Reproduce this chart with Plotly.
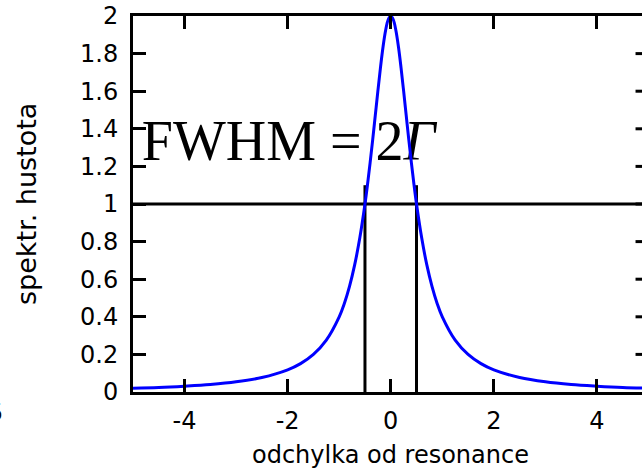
import plotly.graph_objects as go

# Spectral density (Lorentzian-shaped resonance curve)
x_vals = [-5.0, -4.5, -4.0, -3.5, -3.0, -2.5, -2.0, -1.75, -1.5, -1.25, -1.0, -0.9, -0.8, -0.7,
          -0.6, -0.5, -0.45, -0.4, -0.35, -0.3, -0.25, -0.2, -0.15, -0.1, -0.05, 0.0,
          0.05, 0.1, 0.15, 0.2, 0.25, 0.3, 0.35, 0.4, 0.45, 0.5, 0.6, 0.7, 0.8, 0.9, 1.0,
          1.25, 1.5, 1.75, 2.0, 2.5, 3.0, 3.5, 4.0, 4.5, 5.0]
y_vals = [0.020, 0.024, 0.031, 0.040, 0.054, 0.077, 0.118, 0.151, 0.200, 0.276, 0.400, 0.471,
          0.562, 0.676, 0.820, 1.000, 1.105, 1.220, 1.342, 1.471, 1.600, 1.724, 1.835, 1.923,
          1.980, 2.000, 1.980, 1.923, 1.835, 1.724, 1.600, 1.471, 1.342, 1.220, 1.105, 1.000,
          0.820, 0.676, 0.562, 0.471, 0.400, 0.276, 0.200, 0.151, 0.118, 0.077, 0.054, 0.040,
          0.031, 0.024, 0.020]

half_max = 1.0
fwhm_edges = [-0.5, 0.5]
marker_top = 1.1

x_ticks = [-4, -2, 0, 2, 4]
y_ticks = [0, 0.2, 0.4, 0.6, 0.8, 1.0, 1.2, 1.4, 1.6, 1.8, 2.0]
y_ticktext = ["0", "0.2", "0.4", "0.6", "0.8", "1", "1.2", "1.4", "1.6", "1.8", "2"]

X_MIN, X_MAX = -5.0, 5.0
X_VIEW_MAX = 4.874  # right part of the frame lies outside the picture
label = "FWHM = 2<i>Γ</i>"

fig = go.Figure()

# label (drawn beneath the lines)
fig.add_trace(go.Scatter(x=[-4.83], y=[1.31], mode="text", text=[label],
                         textposition="middle right",
                         textfont=dict(family="Liberation Serif", size=56, color="black"),
                         hoverinfo="skip", showlegend=False))

# half-maximum horizontal line
fig.add_trace(go.Scatter(x=[X_MIN, X_MAX], y=[half_max, half_max], mode="lines",
                         line=dict(color="black", width=3), showlegend=False))
# FWHM edge markers
for xe in fwhm_edges:
    fig.add_trace(go.Scatter(x=[xe, xe], y=[0, marker_top], mode="lines",
                             line=dict(color="black", width=3), showlegend=False))

# resonance curve
fig.add_trace(go.Scatter(x=x_vals, y=y_vals, mode="lines", line_shape="spline",
                         line=dict(color="#0000ff", width=3), showlegend=False))

# right-hand frame ticks (frame itself is outside the picture)
tick_len = 13 / 51.7
for v in y_ticks[1:-1]:
    fig.add_shape(type="line", xref="x", yref="y", x0=X_MAX - tick_len, x1=X_MAX,
                  y0=v, y1=v, line=dict(color="black", width=3))

tick_font = dict(family="DejaVu Sans", size=24, color="black")
fig.update_xaxes(range=[X_MIN, X_VIEW_MAX], tickvals=x_ticks,
                 ticktext=[str(t) for t in x_ticks],
                 ticks="inside", ticklen=13, tickwidth=3, tickcolor="black",
                 showline=True, linewidth=3, linecolor="black", mirror="ticks",
                 showgrid=False, zeroline=False, tickfont=tick_font,
                 ticklabelstandoff=5)
fig.update_yaxes(range=[0, 2], tickvals=y_ticks, ticktext=y_ticktext,
                 ticks="inside", ticklen=13, tickwidth=3, tickcolor="black",
                 showline=True, linewidth=3, linecolor="black", mirror=False,
                 showgrid=False, zeroline=False, tickfont=tick_font,
                 ticklabelstandoff=7)

title_font = dict(family="DejaVu Sans", size=24, color="black")
fig.add_annotation(text="odchylka od resonance", xref="paper", yref="paper",
                   x=(390 - 133) / 509, y=-(455 - 392) / 376, xanchor="center", yanchor="middle",
                   showarrow=False, font=title_font)
fig.add_annotation(text="spektr. hustota", xref="paper", yref="paper",
                   x=-(133 - 26) / 509, y=0.5, xanchor="center", yanchor="middle",
                   textangle=-90, showarrow=False,
                   font=dict(family="DejaVu Sans", size=27, color="black"))
fig.add_annotation(text="5", xref="paper", yref="paper",
                   x=-(133 - 5) / 509, y=-(413 - 392) / 376, xanchor="right", yanchor="middle",
                   showarrow=False, font=tick_font)

fig.update_layout(width=642, height=472, margin=dict(l=133, r=0, t=16, b=80),
                  plot_bgcolor="white", paper_bgcolor="white")

fig.write_html("out.html")
